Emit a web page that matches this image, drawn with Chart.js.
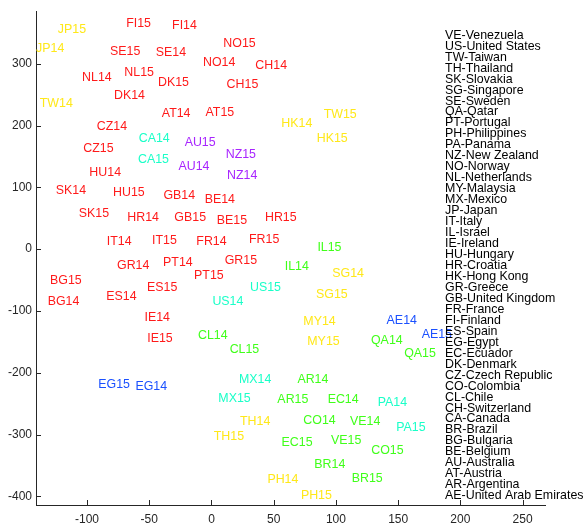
<!DOCTYPE html>
<html><head><meta charset="utf-8">
<script src="https://cdn.jsdelivr.net/npm/chart.js@4"></script>
<style>html,body{margin:0;padding:0;background:#fff}</style>
</head><body><canvas id="c" width="586" height="525"></canvas>
<script>
// ---- data ----
const redLabels = ['FI15','FI14','NO15','SE15','SE14','NO14','CH14','NL14','NL15','DK15','CH15','DK14','AT14','AT15','CZ14','CZ15','HU14','SK14','HU15','GB14','BE14','SK15','HR14','GB15','BE15','HR15','IT14','IT15','FR14','FR15','GR14','PT14','GR15','PT15','BG15','BG14','ES15','ES14','IE14','IE15'];
const redX = [-58.6,-21.7,22.5,-69.3,-32.6,6.2,48.0,-92.1,-58.1,-30.5,24.9,-65.9,-28.4,6.7,-80.0,-90.8,-85.4,-112.9,-66.4,-25.9,6.7,-94.5,-54.9,-17.1,16.4,55.7,-74.1,-37.8,0.0,42.3,-62.9,-27.0,23.6,-2.1,-117.0,-118.9,-39.6,-72.3,-43.6,-41.4];
const redY = [365.3,362.1,333.1,320.2,318.2,302.1,296.8,278.4,286.4,268.7,266.2,247.8,219.5,221.1,197.9,163.2,123.9,94.9,91.7,85.9,80.5,57.9,50.5,50.5,46.7,51.5,11.9,14.5,12.9,16.1,-27.4,-21.9,-18.7,-42.8,-50.9,-84.6,-62.8,-77.2,-111.0,-144.2];

const yellowLabels = ['JP15','JP14','TW14','HK14','TW15','HK15','SG14','SG15','MY14','MY15','TH14','TH15','PH14','PH15'];
const yellowX = [-112.1,-129.6,-124.7,68.6,103.4,97.0,109.8,96.7,86.8,90.0,35.1,14.0,57.4,84.3];
const yellowY = [355.6,325.1,235.0,202.8,217.3,178.1,-40.2,-74.0,-117.5,-149.7,-278.4,-302.5,-372.7,-398.0];

const cyanLabels = ['CA14','CA15','US15','US14','MX14','MX15','PA14','PA15'];
const cyanX = [-46.0,-46.6,43.4,13.2,35.1,18.5,145.4,160.2];
const cyanY = [178.6,145.5,-62.8,-85.3,-210.8,-241.4,-248.8,-289.0];

const purpleLabels = ['AU15','NZ15','AU14','NZ14'];
const purpleX = [-9.1,23.6,-14.1,24.7];
const purpleY = [172.2,152.4,133.6,119.7];

const greenLabels = ['IL15','IL14','CL14','CL15','QA14','QA15','AR14','AR15','EC14','CO14','VE14','EC15','VE15','CO15','BR14','BR15'];
const greenX = [94.8,68.6,1.1,26.5,140.9,167.6,81.5,65.4,105.8,86.8,123.5,68.8,108.2,141.4,95.1,125.1];
const greenY = [3.2,-29.0,-140.0,-161.9,-148.5,-169.0,-211.3,-243.5,-243.5,-277.3,-279.4,-313.2,-309.9,-326.0,-349.2,-371.1];

const blueLabels = ['AE14','AE15','EG15','EG14'];
const blueX = [152.9,181.1,-78.2,-48.4];
const blueY = [-115.9,-137.8,-219.8,-223.0];

const countryList = ['VE-Venezuela','US-United States','TW-Taiwan','TH-Thailand','SK-Slovakia','SG-Singapore','SE-Sweden','QA-Qatar','PT-Portugal','PH-Philippines','PA-Panama','NZ-New Zealand','NO-Norway','NL-Netherlands','MY-Malaysia','MX-Mexico','JP-Japan','IT-Italy','IL-Israel','IE-Ireland','HU-Hungary','HR-Croatia','HK-Hong Kong','GR-Greece','GB-United Kingdom','FR-France','FI-Finland','ES-Spain','EG-Egypt','EC-Ecuador','DK-Denmark','CZ-Czech Republic','CO-Colombia','CL-Chile','CH-Switzerland','CA-Canada','BR-Brazil','BG-Bulgaria','BE-Belgium','AU-Australia','AT-Austria','AR-Argentina','AE-United Arab Emirates'];
const listAnchor = [187.7, 346.0, -399.1]; // x, top y, bottom y (data units)

const xTicks = [-100,-50,0,50,100,150,200,250];
const yTicks = [-400,-300,-200,-100,0,100,200,300];

// ---- build ----
function ds(labels, xs, ys, color) {
  return { labels: labels, data: xs.map((x,i)=>({x:x, y:ys[i]})), color: color, pointRadius: 0, showLine: false };
}
const datasets = [
  ds(redLabels, redX, redY, '#ff1a1a'),
  ds(yellowLabels, yellowX, yellowY, '#ffe81a'),
  ds(cyanLabels, cyanX, cyanY, '#1affc8'),
  ds(purpleLabels, purpleX, purpleY, '#a825ff'),
  ds(greenLabels, greenX, greenY, '#40ff1a'),
  ds(blueLabels, blueX, blueY, '#1a50ff')
];

const FONT = '12.4px "Liberation Sans", Arial, sans-serif';
const AXC = '#262626';

const textPlugin = {
  id: 'textLabels',
  afterDatasetsDraw(chart) {
    const ctx = chart.ctx;
    ctx.save();
    ctx.font = FONT;
    ctx.textAlign = 'center';
    ctx.textBaseline = 'middle';
    chart.data.datasets.forEach((d, di) => {
      const meta = chart.getDatasetMeta(di);
      ctx.fillStyle = d.color;
      meta.data.forEach((el, i) => { ctx.fillText(d.labels[i], el.x, el.y); });
    });
    // country list
    const xs = chart.scales.x, ys = chart.scales.y;
    const px = xs.getPixelForValue(listAnchor[0]);
    const top = ys.getPixelForValue(listAnchor[1]);
    const bot = ys.getPixelForValue(listAnchor[2]);
    const step = (bot - top) / (countryList.length - 1);
    ctx.fillStyle = '#000';
    ctx.textAlign = 'left';
    countryList.forEach((t, i) => ctx.fillText(t, px, top + i * step));
    // inward tick marks
    ctx.strokeStyle = AXC;
    ctx.lineWidth = 1;
    const ca = chart.chartArea;
    ctx.beginPath();
    xTicks.forEach(v => { const p = Math.round(xs.getPixelForValue(v)) + 0.5; ctx.moveTo(p, ca.bottom); ctx.lineTo(p, ca.bottom - 5); });
    yTicks.forEach(v => { const p = Math.round(ys.getPixelForValue(v)) + 0.5; ctx.moveTo(ca.left, p); ctx.lineTo(ca.left + 5, p); });
    ctx.stroke();
    ctx.restore();
  }
};

new Chart(document.getElementById('c'), {
  type: 'scatter',
  data: { datasets: datasets },
  options: {
    responsive: false,
    animation: false,
    devicePixelRatio: 1,
    layout: { padding: { left: 0, right: 41, top: 8, bottom: 0 } },
    plugins: { legend: { display: false }, tooltip: { enabled: false } },
    scales: {
      x: {
        type: 'linear', position: 'bottom', min: -141, max: 268,
        grid: { display: false, drawTicks: false },
        border: { display: true, color: AXC, width: 1 },
        afterBuildTicks: s => { s.ticks = xTicks.map(v => ({ value: v })); },
        afterFit: s => { s.height = 20; },
        ticks: { color: AXC, padding: 7, font: { family: '"Liberation Sans", Arial, sans-serif', size: 12 }, callback: v => String(v), maxRotation: 0, autoSkip: false }
      },
      y: {
        type: 'linear', position: 'left', min: -414, max: 385,
        grid: { display: false, drawTicks: false },
        border: { display: true, color: AXC, width: 1 },
        afterBuildTicks: s => { s.ticks = yTicks.map(v => ({ value: v })); },
        afterFit: s => { s.width = 36; },
        ticks: { color: AXC, padding: 4, font: { family: '"Liberation Sans", Arial, sans-serif', size: 12 }, callback: v => String(v), autoSkip: false }
      }
    }
  },
  plugins: [textPlugin]
});
</script></body></html>
